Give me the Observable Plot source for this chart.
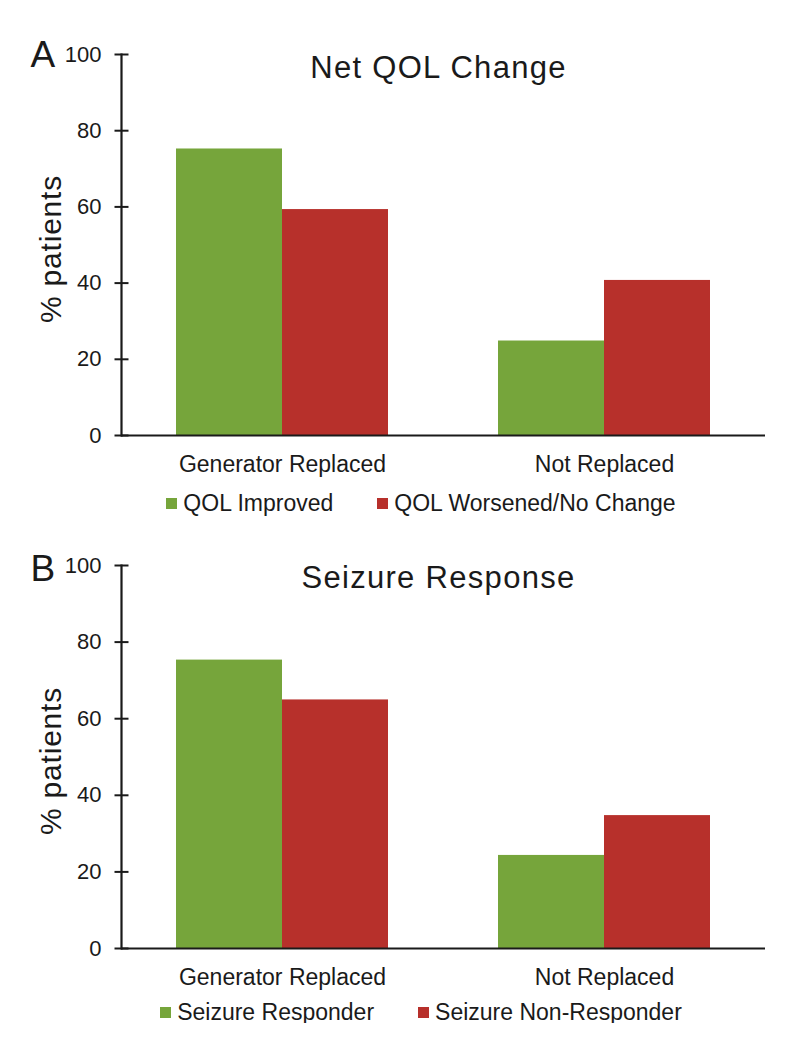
<!DOCTYPE html>
<html><head><meta charset="utf-8">
<script src="https://cdn.jsdelivr.net/npm/d3@7"></script>
<script src="https://cdn.jsdelivr.net/npm/@observablehq/plot@0.6"></script>
<style>
body{margin:0;background:#fff;font-family:"Liberation Sans",Arial,sans-serif;color:#1a1a1a}
#chart{width:788px}
.legend{display:flex;justify-content:center;gap:44px;padding-left:54px;height:22px;align-items:center;font-size:23px;line-height:22px}
.item{display:flex;align-items:center;gap:6px;white-space:nowrap}
.sw{width:11px;height:11px;display:inline-block}
svg{display:block}
</style></head><body><div id="chart"></div><script>
const categories = ["Generator Replaced", "Not Replaced"];
const panelLetters = ["A", "B"];
const panelTitles = ["Net QOL Change", "Seizure Response"];
const qolSeries = ["QOL Improved", "QOL Worsened/No Change"];
const qolImproved = [75.2, 24.8];
const qolWorsened = [59.3, 40.7];
const seizureSeries = ["Seizure Responder", "Seizure Non-Responder"];
const seizureResponder = [75.3, 24.3];
const seizureNonResponder = [64.9, 34.7];
const yTicks = [0, 20, 40, 60, 80, 100];
const yLabel = "% patients";
const colors = ["#76a53b", "#b7302b"];

const ink = "#1a1a1a";
const tickSymbol = {draw(ctx, size) { const r = Math.sqrt(size / Math.PI); ctx.moveTo(-r, 0); ctx.lineTo(r, 0); }};

function panel(letter, title, series, a, b, opts) {
  const rows = categories.flatMap((c, i) => [
    {category: c, series: series[0], value: a[i]},
    {category: c, series: series[1], value: b[i]}
  ]);
  return Plot.plot({
    width: 788, height: opts.height,
    marginTop: opts.marginTop, marginBottom: 45, marginLeft: 120, marginRight: 23,
    style: {fontFamily: "'Liberation Sans', Arial, sans-serif", fontSize: "22px", color: ink, background: "white", overflow: "visible"},
    fx: {domain: categories, padding: 0, label: null, axis: null},
    x: {domain: series, paddingInner: 0, paddingOuter: 0.507, axis: null},
    y: {domain: [0, 100], axis: null},
    color: {domain: series, range: colors},
    marks: [
      Plot.barY(rows, {fx: "category", x: "series", y: "value", fill: "series"}),
      Plot.axisFx({anchor: "bottom", tickSize: 0, tickPadding: 20, label: null, fontSize: 23, fill: ink}),
      Plot.axisY({ticks: yTicks, tickSize: 0, tickPadding: 20, label: null, fontSize: 22, fill: ink}),
      Plot.ruleY([0], {stroke: ink, strokeWidth: 2.2}),
      Plot.frame({anchor: "left", facetAnchor: "left", stroke: ink, strokeWidth: 2.2}),
      Plot.dot(yTicks, {y: d => d, frameAnchor: "left", facetAnchor: "left", symbol: tickSymbol, r: 7, stroke: ink, strokeWidth: 2, fill: "none"}),
      Plot.text([yLabel], {frameAnchor: "left", facetAnchor: "left", rotate: -90, dx: -61, dy: 4, lineAnchor: "bottom", textAnchor: "middle", fontSize: 30, fill: ink}),
      Plot.text([letter], {frameAnchor: "top-left", facetAnchor: "left", dx: -91, dy: opts.letterDy, lineAnchor: "bottom", textAnchor: "start", fontSize: 37, fill: ink}),
      Plot.text([title], {frameAnchor: "top", facet: "super", dx: -5, dy: opts.titleDy, lineAnchor: "top", fontSize: 31, fill: ink})
    ]
  });
}

function legend(series, marginTop) {
  const div = document.createElement("div");
  div.className = "legend";
  div.style.marginTop = marginTop + "px";
  series.forEach((s, i) => {
    const item = document.createElement("span");
    item.className = "item";
    const sw = document.createElement("span");
    sw.className = "sw";
    sw.style.background = colors[i];
    const t = document.createElement("span");
    t.textContent = s;
    item.append(sw, t);
    div.append(item);
  });
  return div;
}

const chart = document.getElementById("chart");
const pA = panel(panelLetters[0], panelTitles[0], qolSeries, qolImproved, qolWorsened, {height: 480, marginTop: 54, letterDy: 12, titleDy: 1});
chart.append(pA, legend(qolSeries, 12));
const pB = panel(panelLetters[1], panelTitles[1], seizureSeries, seizureResponder, seizureNonResponder, {height: 479, marginTop: 51, letterDy: 15, titleDy: 0});
chart.append(pB, legend(seizureSeries, 8));
document.querySelectorAll("svg text").forEach(t => {
  if (panelTitles.includes(t.textContent)) t.style.letterSpacing = "1.3px";
  if (t.textContent === yLabel) t.style.letterSpacing = "0.8px";
});
</script></body></html>
